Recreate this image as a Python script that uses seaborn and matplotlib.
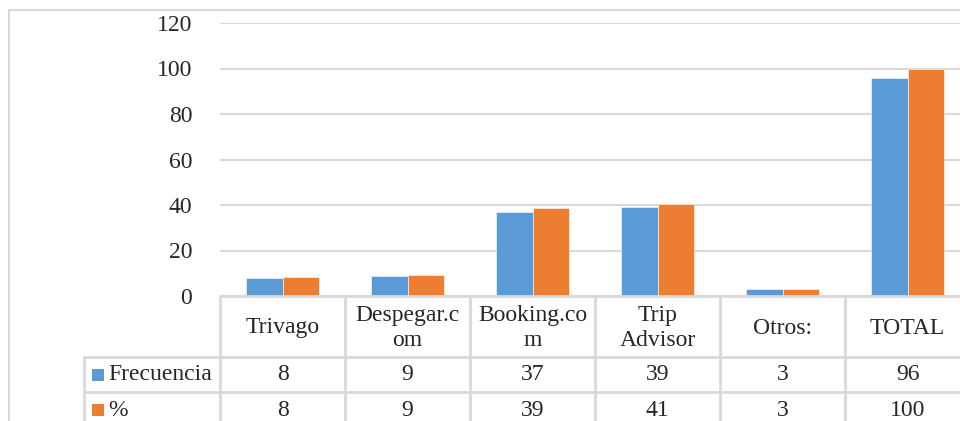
import pandas as pd
import matplotlib.pyplot as plt
import seaborn as sns
from matplotlib.patches import Rectangle
from matplotlib.lines import Line2D

categorias = ["Trivago", "Despegar.com", "Booking.com", "Trip Advisor", "Otros:", "TOTAL"]
etiquetas_tabla = ["Trivago", "Despegar.c\nom", "Booking.co\nm", "Trip\nAdvisor", "Otros:", "TOTAL"]
frecuencia = [8, 9, 37, 39, 3, 96]
porcentaje = [8.33, 9.38, 38.54, 40.63, 3.13, 100]
series = ["Frecuencia", "%"]
colores = ["#5B9BD5", "#ED7D31"]

df = pd.DataFrame({
    "plataforma": categorias * 2,
    "valor": frecuencia + porcentaje,
    "serie": [series[0]] * len(categorias) + [series[1]] * len(categorias),
})

sns.set_style("white")
plt.rcParams["font.family"] = ["Liberation Serif", "DejaVu Serif"]
plt.rcParams["font.size"] = 17

W, H = 960, 421
fig = plt.figure(figsize=(W / 100, H / 100), dpi=100)
ax = fig.add_axes([220 / W, 125 / H, 750 / W, 273 / H])

sns.barplot(data=df, x="plataforma", y="valor", hue="serie", palette=colores,
            width=0.58, saturation=1, legend=False, ax=ax, edgecolor="white", linewidth=0.4)

grid = "#D9D9D9"
ax.set_xlim(-0.5, 5.5)
ax.set_ylim(0, 120)
ax.set_yticks(range(0, 121, 20))
ax.yaxis.grid(True, color=grid, linewidth=1.5)
ax.set_axisbelow(True)
ax.tick_params(axis="y", length=0, pad=20, labelsize=17)
ax.set_xticks([])
ax.set_xlabel("")
ax.set_ylabel("")
for s in ax.spines.values():
    s.set_visible(False)

# marco del grafico
fig.add_artist(Rectangle((9 / W, -0.1), 1.2, (H - 10) / H + 0.1, transform=fig.transFigure,
                         fill=False, edgecolor=grid, linewidth=1.5))

# tabla de datos (filas en pixeles desde arriba)
def fy(py):
    return (H - py) / H

def ay(py):
    return -(py - 296) / 273

tr = ax.get_xaxis_transform()
x_left = -0.5 - (220 - 84) / 125

kw = dict(color=grid, linewidth=2, transform=tr, clip_on=False)
ax.add_line(Line2D([-0.5, 5.6], [0, 0], **kw))
ax.add_line(Line2D([x_left, 5.6], [ay(357), ay(357)], **kw))
ax.add_line(Line2D([x_left, 5.6], [ay(392), ay(392)], **kw))
ax.add_line(Line2D([x_left, x_left], [ay(357), ay(440)], **kw))
for b in range(6):
    ax.add_line(Line2D([b - 0.5, b - 0.5], [0, ay(440)], **kw))

for i, lab in enumerate(etiquetas_tabla):
    ax.text(i, ay(328), lab, transform=tr, ha="center", va="center",
            linespacing=1.25, clip_on=False)
    ax.text(i, ay(375), f"{frecuencia[i]:.0f}", transform=tr, ha="center", va="center", clip_on=False)
    ax.text(i, ay(410), f"{porcentaje[i]:.0f}", transform=tr, ha="center", va="center", clip_on=False)

for j, (nombre, row) in enumerate(zip(series, [375, 410])):
    fig.add_artist(Rectangle((92 / W, fy(row + 6)), 12 / W, 12 / H, transform=fig.transFigure,
                             facecolor=colores[j], edgecolor="none"))
    fig.text(108 / W, fy(row), nombre, ha="left", va="center")

fig.savefig("out.png", dpi=100)
